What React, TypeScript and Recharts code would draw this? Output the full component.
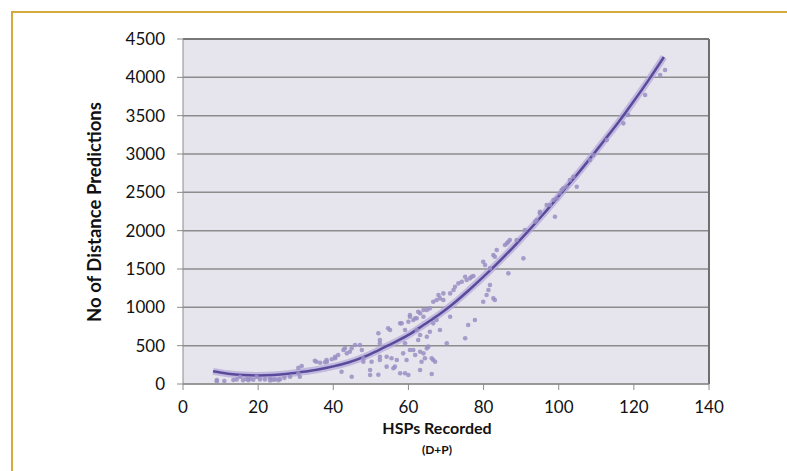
import React from 'react';
import {
  ComposedChart,
  Scatter,
  Line,
  XAxis,
  YAxis,
  CartesianGrid,
  ReferenceLine,
} from 'recharts';

// observed points (HSPs recorded, distance predictions)
const hsps = [
  9, 9, 11, 13.4, 14.3, 15.2, 16, 17, 17.4, 17.8, 18.7, 19.6, 20.5, 21.8, 23.2, 23.2, 24, 24.5, 25.4, 25.8,
  27, 28.5, 30.7, 30.7, 31.1, 31.6, 35.1, 35.5, 36.5, 37.8, 38.2, 38.3, 39.6, 40.5, 40.5, 41.3, 42.2, 42.7,
  43.1, 43.6, 44.4, 44.9, 44.9, 45.8, 47.1, 47.6, 48, 48, 49.8, 49.8, 50.2, 52, 52, 52.4, 52.4, 52.4, 52.4,
  54.2, 54.2, 54.6, 55.1, 55.5, 56, 56.4, 56.9, 57.8, 57.8, 58.2, 58.6, 59.1, 59.1, 59.1, 59.5, 60, 60,
  60.4, 60.4, 60.4, 61.3, 61.3, 61.8, 61.8, 62.2, 62.2, 62.6, 62.6, 63.1, 63.1, 63.1, 63.1, 63.5, 64, 64,
  64, 64.4, 64.9, 64.9, 64.9, 65.3, 65.7, 65.7, 66.2, 66.2, 66.6, 66.6, 66.6, 67.1, 67.5, 67.5, 68, 68.4,
  68.4, 69.3, 69.3, 70.2, 71.1, 71.1, 72, 72.4, 73.3, 74.2, 75.1, 75.1, 75.5, 75.9, 76.4, 76.8, 77.3, 77.7,
  79.9, 79.9, 80.4, 80.8, 81.3, 81.7, 81.7, 82.6, 82.6, 83, 83, 83.5, 85.7, 86.2, 86.6, 86.6, 87, 88.8,
  90.6, 91, 93.7, 94.1, 95, 95, 96.8, 97.7, 98.6, 99, 99.5, 100.3, 100.8, 101.2, 102.1, 103, 103.9, 104.8,
  108.3, 109.2, 112.8, 117.2, 118.5, 123, 127, 128.3,
];
const predictions = [
  35, 52, 40, 52, 60, 95, 50, 65, 48, 70, 55, 95, 60, 60, 74, 45, 55, 60, 50, 62,
  80, 95, 140, 210, 95, 235, 304, 290, 278, 283, 313, 291, 322, 335, 356, 378, 160, 443,
  465, 400, 421, 465, 95, 508, 508, 443, 291, 335, 183, 117, 291, 661, 120, 574, 530, 356, 313,
  226, 356, 726, 704, 335, 205, 226, 313, 791, 140, 791, 400, 530, 704, 140, 313, 812, 117,
  878, 443, 900, 834, 443, 857, 378, 704, 857, 574, 943, 922, 183, 639, 421, 291, 965, 878,
  400, 335, 465, 617, 965, 487, 682, 987, 335, 130, 791, 1073, 313, 291, 834, 1095, 1160, 704,
  1117, 1095, 1182, 530, 878, 1182, 1226, 1269, 1313, 1334, 596, 1399, 1356, 769, 1378, 1399, 1408, 834,
  1073, 1595, 1552, 1160, 1226, 1508, 1291, 1682, 1117, 1660, 1095, 1747, 1813, 1834, 1856, 1443, 1878, 1878,
  1639, 2008, 2117, 2139, 2247, 2226, 2334, 2334, 2400, 2182, 2421, 2487, 2530, 2552, 2573, 2660, 2703, 2573,
  2921, 2986, 3182, 3400, 3508, 3769, 4030, 4095,
];

// polynomial trend line
const trendX = [8, 12, 16, 20, 24, 28, 32, 36, 40, 44, 48, 52, 56, 60, 64, 68, 72, 76, 80, 84, 88, 92, 96, 100, 104, 108, 112, 116, 120, 124, 128];
const trendY = [165, 135, 118, 112, 118, 135, 160, 190, 230, 280, 350, 440, 535, 640, 770, 900, 1050, 1220, 1400, 1590, 1790, 2000, 2220, 2450, 2680, 2920, 3170, 3420, 3690, 3970, 4265];

const xTicks = [0, 20, 40, 60, 80, 100, 120, 140];
const yTicks = [0, 500, 1000, 1500, 2000, 2500, 3000, 3500, 4000, 4500];

const points = hsps.map((x, i) => ({ x, y: predictions[i] }));
const trend = trendX.map((x, i) => ({ x, y: trendY[i] }));

const tickStyle = { fontSize: 17, fill: '#111', fontFamily: 'Lato' };

const Dot = (p: any) => <circle cx={p.cx} cy={p.cy} r={2.3} fill="#9a8fc4" fillOpacity={0.85} />;

export default function App() {
  return (
    <div
      style={{
        position: 'absolute',
        left: 0,
        top: 0,
        width: 787,
        height: 471,
        overflow: 'hidden',
        background: '#fff',
        fontFamily: 'Lato',
      }}
    >
      {/* gold frame, runs off the right and bottom edges */}
      <div
        style={{
          position: 'absolute',
          left: 11,
          top: 11,
          width: 900,
          height: 600,
          border: '2px solid #d6a93c',
        }}
      />
      <div style={{ position: 'absolute', left: 0, top: 0 }}>
        <ComposedChart
          width={787}
          height={471}
          data={trend}
          margin={{ top: 39, right: 78, bottom: 57, left: 123 }}
        >
          <CartesianGrid vertical={false} stroke="#8c8c8c" strokeWidth={1.5} fill="#e6e4ec" fillOpacity={1} />
          <XAxis
            type="number"
            dataKey="x"
            domain={[0, 140]}
            ticks={xTicks}
            tick={tickStyle}
            tickSize={6}
            tickMargin={11}
            stroke="#8c8c8c"
            height={30}
          />
          <YAxis
            type="number"
            domain={[0, 4500]}
            ticks={yTicks}
            tick={tickStyle}
            tickSize={6}
            tickMargin={12}
            stroke="#8c8c8c"
            width={60}
          />
          <ReferenceLine x={140} stroke="#6f6f6f" strokeWidth={2} />
          <ReferenceLine y={4500} stroke="#777" strokeWidth={2} />
          <Scatter data={points} dataKey="y" shape={Dot} isAnimationActive={false} />
          <Line
            type="monotone"
            dataKey="y"
            stroke="#b2a7da"
            strokeOpacity={0.7}
            strokeWidth={7}
            dot={false}
            activeDot={false}
            isAnimationActive={false}
          />
          <Line
            type="monotone"
            dataKey="y"
            stroke="#5a4a9c"
            strokeWidth={2.5}
            dot={false}
            activeDot={false}
            isAnimationActive={false}
          />
        </ComposedChart>
      </div>
      <div
        style={{
          position: 'absolute',
          left: 337,
          width: 200,
          top: 418,
          textAlign: 'center',
          fontWeight: 700,
          fontSize: 16,
          color: '#111',
        }}
      >
        HSPs Recorded
      </div>
      <div
        style={{
          position: 'absolute',
          left: 387,
          width: 100,
          top: 442,
          textAlign: 'center',
          fontWeight: 700,
          fontSize: 12,
          color: '#111',
        }}
      >
        (D+P)
      </div>
      <div
        style={{
          position: 'absolute',
          left: 94 - 150,
          top: 212 - 11,
          width: 300,
          height: 22,
          lineHeight: '22px',
          textAlign: 'center',
          transform: 'rotate(-90deg)',
          fontWeight: 700,
          fontSize: 18.5,
          color: '#111',
        }}
      >
        No of Distance Predictions
      </div>
    </div>
  );
}
